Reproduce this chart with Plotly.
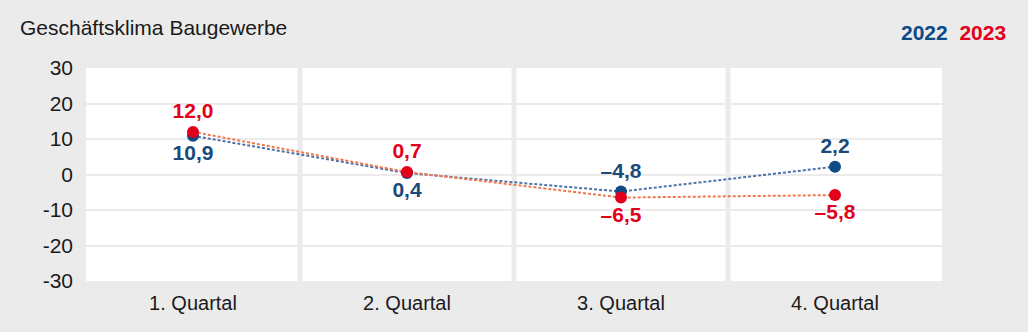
import plotly.graph_objects as go

categories = ["1. Quartal", "2. Quartal", "3. Quartal", "4. Quartal"]
values_2022 = [10.9, 0.4, -4.8, 2.2]
values_2023 = [12.0, 0.7, -6.5, -5.8]
pos_2022 = ["bottom center", "bottom center", "top center", "top center"]
pos_2023 = ["top center", "top center", "bottom center", "bottom center"]
y_ticks = [-30, -20, -10, 0, 10, 20, 30]
title_text = "Geschäftsklima Baugewerbe"
series_names = ["2022", "2023"]

BLUE = "#0d4a86"
BLUE_LINE = "#4d72a8"
RED = "#e2001a"
RED_LINE = "#f0774e"
BG = "#ebebeb"
FONT = "Liberation Sans, Arial, sans-serif"


def fmt(v):
    return f"{v:.1f}".replace(".", ",").replace("-", "–")


fig = go.Figure()
fig.add_trace(go.Scatter(
    x=categories, y=values_2022, mode="lines+markers+text",
    name=series_names[0],
    line=dict(color=BLUE_LINE, width=2, dash="3px,2px"),
    marker=dict(color=BLUE, size=12),
    text=[fmt(v) for v in values_2022], textposition=pos_2022,
    textfont=dict(family=FONT, size=21, color="#1a4a7c", weight="bold"),
    cliponaxis=False,
))
fig.add_trace(go.Scatter(
    x=categories, y=values_2023, mode="lines+markers+text",
    name=series_names[1],
    line=dict(color=RED_LINE, width=2, dash="3px,2px"),
    marker=dict(color=RED, size=12),
    text=[fmt(v) for v in values_2023], textposition=pos_2023,
    textfont=dict(family=FONT, size=21, color=RED, weight="bold"),
    cliponaxis=False,
))

shapes = []
for b in [0.5, 1.5, 2.5]:
    shapes.append(dict(type="line", xref="x", yref="paper", x0=b, x1=b, y0=0, y1=1,
                       line=dict(color=BG, width=5), layer="below"))

fig.update_layout(
    width=1028, height=332,
    margin=dict(l=86, r=86, t=68, b=51),
    paper_bgcolor=BG, plot_bgcolor="white",
    showlegend=False,
    font=dict(family=FONT, size=21, color="#1a1a1a"),
    shapes=shapes,
    xaxis=dict(range=[-0.5, 3.5], showgrid=False, zeroline=False, ticks="",
               tickfont=dict(size=20, color="#1a1a1a"), ticklabelstandoff=8),
    yaxis=dict(range=[-30, 30], tickvals=y_ticks,
               ticktext=[str(v) for v in y_ticks],
               showgrid=True, gridcolor=BG, gridwidth=2, zeroline=False, ticks="",
               tickfont=dict(size=21, color="#1a1a1a"), ticklabelstandoff=12),
    annotations=[
        dict(text=title_text, xref="paper", yref="paper", x=-86/856, y=1 + 41/213,
             xanchor="left", yanchor="middle", showarrow=False,
             xshift=18, font=dict(size=21, color="#1a1a1a")),
        dict(text=f"<b><span style='color:{BLUE}'>{series_names[0]}</span>  "
                  f"<span style='color:{RED}'>{series_names[1]}</span></b>",
             xref="paper", yref="paper", x=1 + 86/856, y=1 + 36/213,
             xanchor="right", yanchor="middle", showarrow=False, xshift=-20,
             font=dict(size=21)),
    ],
)

fig.write_html("out.html")
